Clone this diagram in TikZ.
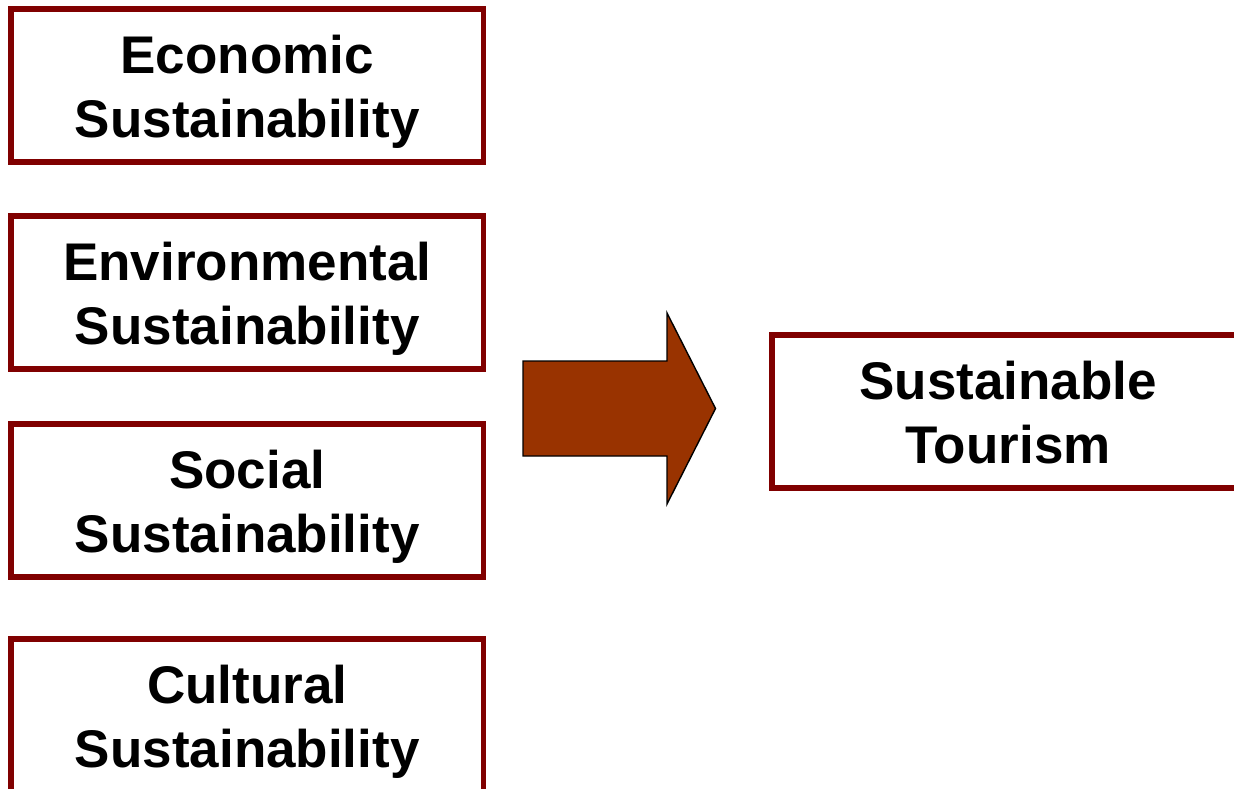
\documentclass[tikz,border=0pt]{standalone}
\usepackage{fontspec}
\setmainfont{Liberation Sans}
\definecolor{boxred}{HTML}{800000}
\definecolor{arrowfill}{HTML}{993300}
\begin{document}
\begin{tikzpicture}[x=1pt,y=-1pt,
  pillar/.style={draw=boxred, line width=5.8pt, fill=white, rectangle,
    minimum width=472.5pt, minimum height=153pt, inner sep=0pt,
    text height=115pt, text depth=11pt,
    align=center, font=\fontsize{53}{64}\selectfont\bfseries, text=black},
  bigarrow/.style={draw=black, line width=1.4pt, fill=arrowfill, line join=miter}]
\useasboundingbox (0,0) rectangle (1234,789);
\clip (0,0) rectangle (1234,789);
\fill[white] (0,0) rectangle (1234,789);
\node[pillar] (eco) at (247.25,85.25) {Economic\\Sustainability};
\node[pillar] (env) at (247.25,292.75) {Environmental\\Sustainability};
\node[pillar] (soc) at (247.25,500.75) {Social\\Sustainability};
\node[pillar] (cul) at (247.25,715.5) {Cultural\\Sustainability};
\node[pillar] (tour) at (1008,411.4) {Sustainable\\Tourism};
\coordinate (tail) at (523,408.5);
\coordinate (tip) at (715.5,408.5);
\draw[bigarrow] (tail |- 0,361) -- (667,361) -- (667,313) -- (tip)
  -- (667,504) -- (667,456) -- (tail |- 0,456) -- cycle;
\end{tikzpicture}
\end{document}
